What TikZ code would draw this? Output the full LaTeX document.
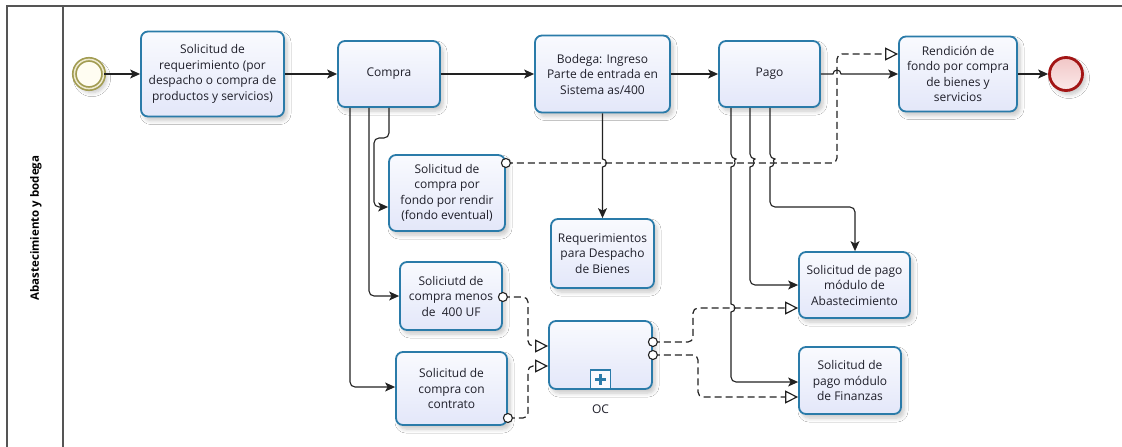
\documentclass[tikz,border=0pt]{standalone}
\usepackage{fontspec}
\setmainfont{Open Sans}
\usetikzlibrary{arrows.meta,shadows.blur,calc}

\definecolor{taskedge}{HTML}{2A7BA9}
\definecolor{tasklight}{HTML}{F9FAFE}
\definecolor{taskdark}{HTML}{E3E7F9}
\definecolor{ink}{HTML}{1F1F2A}
\definecolor{flowink}{HTML}{222222}
\definecolor{poolink}{HTML}{555555}
\definecolor{startedge}{HTML}{A29C52}
\definecolor{startband}{HTML}{EEEAD0}
\definecolor{startfill}{HTML}{FFFDF2}
\definecolor{endedge}{HTML}{A31515}
\definecolor{endlight}{HTML}{FBEAEA}
\definecolor{enddark}{HTML}{F1C6C6}

\tikzset{
  softshadow/.style={blur shadow={shadow xshift=3pt, shadow yshift=-4pt,
      shadow blur radius=4pt, shadow blur steps=6, shadow opacity=22}},
  task/.style 2 args={draw=taskedge, line width=1.8pt, rounded corners=7pt,
      top color=tasklight, bottom color=taskdark, softshadow,
      minimum width=#1pt, minimum height=#2pt, inner sep=0pt,
      align=center, text=ink, font=\fontsize{12}{15.5}\selectfont},
  startev/.style={circle, inner sep=0pt, minimum size=29.2pt,
      draw=startedge, line width=1.7pt, double=startband, double distance=1.5pt,
      fill=startfill, softshadow},
  endev/.style={circle, inner sep=0pt, minimum size=33pt,
      draw=endedge, line width=2.8pt, top color=enddark, bottom color=endlight,
      softshadow},
  flow/.style={draw=flowink, line width=1.1pt, rounded corners=5pt,
      -{Stealth[length=10pt, width=9pt, inset=2.5pt]}},
  assoc/.style={draw=flowink, line width=1.2pt, dash pattern=on 7pt off 4pt,
      rounded corners=5pt, -{Triangle[open, length=13pt, width=13pt, fill=white]}},
  port/.style={draw=flowink, line width=1.1pt, fill=white},
  lanetitle/.style={rotate=90, text=black, font=\bfseries\fontsize{11.5}{14}\selectfont},
  caption/.style={text=ink, font=\fontsize{12}{15.5}\selectfont}
}

\begin{document}
\begin{tikzpicture}[x=1pt, y=-1pt]
  \fill[white] (0,0) rectangle (1122,447);
  \useasboundingbox (0,0) rectangle (1122,447);

  % pool and lane frame
  \draw[poolink, line width=1.6pt] (1122,6) -- (7,6) -- (7,447);
  \draw[poolink, line width=1.6pt] (63,6) -- (63,447);
  \node[lanetitle] (lane) at (36,228) {Abastecimiento y bodega};

  % events
  \node[startev] (inicio) at (89,74) {};
  \node[endev] (fin) at (1066,74) {};

  % tasks, main row
  \node[task={143}{85}] (req) at (212.5,74) {Solicitud de\\requerimiento (por\\despacho o compra de\\productos y servicios)};
  \node[task={102}{66}] (compra) at (389,74) {Compra};
  \node[task={135}{77}] (bodega) at (602.5,74) {Bodega: Ingreso\\Parte de entrada en\\Sistema as/400};
  \node[task={101}{66}] (pago) at (769.5,74) {Pago};
  \node[task={118}{75}] (rend) at (958,74) {Rendición de\\fondo por compra\\de bienes y\\servicios};

  % tasks, lower area
  \node[task={116}{76}] (fondo) at (447,193) {Solicitud de\\compra por\\fondo por rendir\\(fondo eventual)};
  \node[task={103}{69}] (despacho) at (602.5,253.5) {Requerimientos\\para Despacho\\de Bienes};
  \node[task={102}{68}] (menos) at (451,296) {Soliciutd de\\compra menos\\de\ \ 400 UF};
  \node[task={111}{73}] (contrato) at (451.5,388.5) {Solicitud de\\compra con\\contrato};
  \node[task={103}{68}] (oc) at (600.5,355) {};
  \node[caption] (oclabel) at (600.5,409) {OC};
  \node[task={111}{66}] (abast) at (854.5,285) {Solicitud de pago\\módulo de\\Abastecimiento};
  \node[task={102}{67}] (finz) at (850,380.5) {Solicitud de\\pago módulo\\de Finanzas};

  % sub-process marker of OC
  \draw[taskedge, line width=1.3pt, fill=tasklight]
    ($(oc.south)+(-10,-0.9)$) rectangle ($(oc.south)+(10,-20)$);
  \draw[taskedge, line width=3.2pt] ($(oc.south)+(0,-5)$) -- ($(oc.south)+(0,-15.5)$);
  \draw[taskedge, line width=3.2pt] ($(oc.south)+(-5.3,-10.2)$) -- ($(oc.south)+(5.3,-10.2)$);

  % dashed associations
  \draw[assoc] (fondo.east |- 0,163) -- (837,163) -- (837,54) -- (rend.west |- 0,54);
  \draw[assoc] (menos.east |- 0,297) -- (528,297) -- (528,346) -- (oc.west |- 0,346);
  \draw[assoc] (contrato.east |- 0,418) -- (528,418) -- (528,366) -- (oc.west |- 0,366);
  \draw[assoc] (oc.east |- 0,342) -- (693,342) -- (693,308) -- (abast.west |- 0,308);
  \draw[assoc] (oc.east |- 0,355) -- (698,355) -- (698,397) -- (finz.west |- 0,397);
  \draw[port] (fondo.east |- 0,163) circle[radius=4.5];
  \draw[port] (menos.east |- 0,297) circle[radius=4.5];
  \draw[port] (contrato.east |- 0,418) circle[radius=4.5];
  \draw[port] (oc.east |- 0,342) circle[radius=4.5];
  \draw[port] (oc.east |- 0,355) circle[radius=4.5];

  % sequence flows, main row
  \draw[flow] (inicio.east) -- (req.west);
  \draw[flow] (req.east) -- (compra.west);
  \draw[flow] (compra.east) -- (bodega.west);
  \draw[flow] (bodega.east) -- (pago.west);
  \draw[flow, sharp corners] (pago.east) -- (833,74)
    arc[start angle=180, end angle=360, radius=4] -- (rend.west);
  \draw[flow] (rend.east) -- (fin.west);

  % sequence flows from Compra
  \draw[flow] (compra.south) -- (389,138) -- (374,138) -- (374,207) -- (fondo.west |- 0,207);
  \draw[flow] (compra.south -| 369,0) -- (369,296) -- (menos.west);
  \draw[flow] (compra.south -| 350,0) -- (350,387) -- (contrato.west |- 0,387);

  % Bodega to Requerimientos
  \draw[flow, sharp corners] (bodega.south) -- (602.5,159)
    arc[start angle=-90, end angle=90, radius=4] -- (despacho.north);

  % sequence flows from Pago
  \draw[flow] (pago.south -| 770,0) -- (770,159) [sharp corners]
    arc[start angle=-90, end angle=90, radius=4] [rounded corners=5pt]
    -- (770,207) -- (855,207) -- (abast.north -| 855,0);
  \draw[flow] (pago.south -| 750,0) -- (750,159) [sharp corners]
    arc[start angle=-90, end angle=90, radius=4] [rounded corners=5pt]
    -- (750,285) -- (abast.west);
  \draw[flow] (pago.south -| 731,0) -- (731,159) [sharp corners]
    arc[start angle=-90, end angle=90, radius=4] -- (731,304)
    arc[start angle=-90, end angle=90, radius=4] [rounded corners=5pt]
    -- (731,382) -- (finz.west |- 0,382);
\end{tikzpicture}
\end{document}
